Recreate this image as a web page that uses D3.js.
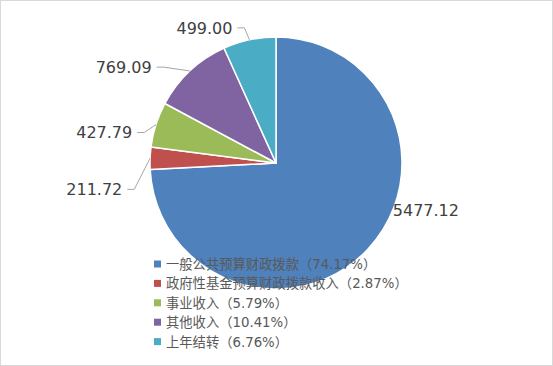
<!DOCTYPE html>
<html>
<head>
<meta charset="utf-8">
<script src="https://cdn.jsdelivr.net/npm/d3@7"></script>
<style>
  body { margin: 0; background: #fff; }
  svg { display: block; }
</style>
</head>
<body>
<div id="chart"></div>
<script>
// chart data
var categories = ["一般公共预算财政拨款", "政府性基金预算财政拨款收入", "事业收入", "其他收入", "上年结转"];
var values = [5477.12, 211.72, 427.79, 769.09, 499.00];
var percentLabels = ["74.17%", "2.87%", "5.79%", "10.41%", "6.76%"];
var colors = ["#4F81BD", "#C0504D", "#9BBB59", "#8064A2", "#4BACC6"];

var width = 553, height = 366;
var cx = 276, cy = 163, radius = 126;

// label placement: angle shift from slice middle (deg) and distance past the rim
var labelShift = [-21.5, -11.9, -5.8, -9.3, -5.7];
var labelGap = [0, 30, 21, 31, 16];

var svg = d3.select("#chart").append("svg")
    .attr("width", width)
    .attr("height", height);

svg.append("rect")
    .attr("x", 0.5).attr("y", 0.5)
    .attr("width", width - 1).attr("height", height - 1)
    .attr("fill", "#fff")
    .attr("stroke", "#d9d9d9");

var pie = d3.pie().sort(null).value(function(d) { return d; });
var arcs = pie(values);
var arc = d3.arc().innerRadius(0).outerRadius(radius);

var g = svg.append("g").attr("transform", "translate(" + cx + "," + cy + ")");

g.selectAll("path.slice")
    .data(arcs)
  .enter().append("path")
    .attr("class", "slice")
    .attr("d", arc)
    .attr("fill", function(d, i) { return colors[i]; })
    .attr("stroke", "#fff")
    .attr("stroke-width", 1.5)
    .attr("stroke-linejoin", "round");

function polar(angle, r) {
  return [Math.sin(angle) * r, -Math.cos(angle) * r];
}

var rad = Math.PI / 180;
arcs.forEach(function(d, i) {
  var mid = (d.startAngle + d.endAngle) / 2;
  var p = polar(mid + labelShift[i] * rad, radius + labelGap[i]);
  var txt = d3.format(".2f")(values[i]);
  var label = g.append("text")
      .attr("x", p[0]).attr("y", p[1])
      .attr("dy", "0.36em")
      .attr("text-anchor", i === 0 ? "start" : "end")
      .attr("font-family", "DejaVu Sans, sans-serif")
      .attr("font-size", "16px")
      .attr("fill", "#404040")
      .text(txt);
  if (i > 0) {
    var rim = polar(mid, radius);
    var pts = [rim, [p[0] + 12, p[1]], [p[0] + 5, p[1]]];
    g.append("polyline")
        .attr("points", pts.map(function(q) { return q.join(","); }).join(" "))
        .attr("fill", "none")
        .attr("stroke", "#a6a6a6")
        .attr("stroke-width", 1);
  }
});

// legend
var legend = svg.append("g").attr("transform", "translate(154,264)");
var rows = legend.selectAll("g.row")
    .data(categories)
  .enter().append("g")
    .attr("class", "row")
    .attr("transform", function(d, i) { return "translate(0," + (i * 19.4) + ")"; });

rows.append("rect")
    .attr("x", 0).attr("y", -3.5)
    .attr("width", 7).attr("height", 7)
    .attr("fill", function(d, i) { return colors[i]; });

rows.append("text")
    .attr("x", 12)
    .attr("y", 0)
    .attr("dy", "0.38em")
    .attr("font-family", "DejaVu Sans, Noto Sans CJK SC, sans-serif")
    .attr("font-size", "13.3px")
    .attr("fill", "#595959")
    .text(function(d, i) { return d + "（" + percentLabels[i] + "）"; });
</script>
</body>
</html>
